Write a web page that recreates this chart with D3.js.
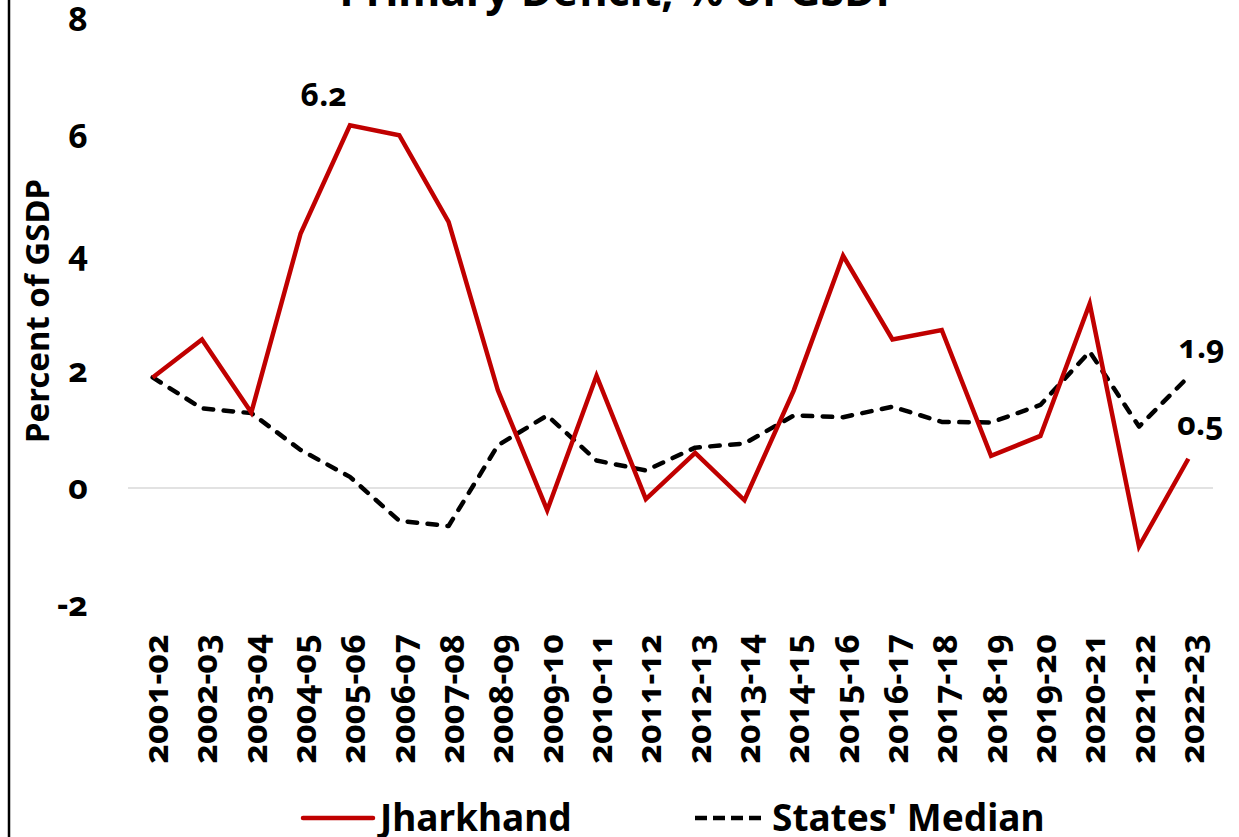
<!DOCTYPE html>
<html>
<head>
<meta charset="utf-8">
<script src="https://cdn.jsdelivr.net/npm/d3@7"></script>
<style>
  html, body { margin: 0; padding: 0; background: #fff; }
  svg { display: block; }
  text { font-family: "Noto Sans", "Open Sans", sans-serif; font-weight: 700; fill: #000;
         font-variant-numeric: oldstyle-nums; }
</style>
</head>
<body>
<svg id="chart" width="1239" height="837"></svg>
<script>
// Fiscal years on the x axis
const years = ["2001-02","2002-03","2003-04","2004-05","2005-06","2006-07","2007-08",
  "2008-09","2009-10","2010-11","2011-12","2012-13","2013-14","2014-15","2015-16",
  "2016-17","2017-18","2018-19","2019-20","2020-21","2021-22","2022-23"];

// Primary deficit as % of GSDP
const jharkhand = [1.89, 2.54, 1.29, 4.35, 6.2, 6.03, 4.55, 1.67, -0.38, 1.92, -0.19,
  0.6, -0.21, 1.67, 3.97, 2.54, 2.7, 0.55, 0.89, 3.15, -1.0, 0.5];
const statesMedian = [1.89, 1.36, 1.28, 0.65, 0.19, -0.56, -0.65, 0.73, 1.24, 0.47, 0.3,
  0.69, 0.76, 1.24, 1.21, 1.39, 1.13, 1.12, 1.42, 2.33, 1.05, 1.9];

const yTicks = [-2, 0, 2, 4, 6, 8];
const seriesNames = ["Jharkhand", "States' Median"];
const title = "Primary Deficit, % of GSDP";
const yTitle = "Percent of GSDP";

const svg = d3.select("#chart");

const x = d3.scalePoint().domain(years).range([128, 1213]).padding(0.5);
const y = d3.scaleLinear().domain([-2, 8]).range([605, 20]);

// outer chart border (left edge)
svg.append("line").attr("x1", 9).attr("x2", 9).attr("y1", 0).attr("y2", 837)
  .attr("stroke", "#000").attr("stroke-width", 2.5);

// title
svg.append("text").attr("x", 621).attr("y", 6).attr("text-anchor", "middle")
  .style("font-size", "43px").text(title);

// zero line
svg.append("line").attr("x1", 128).attr("x2", 1213)
  .attr("y1", y(0)).attr("y2", y(0))
  .attr("stroke", "#d9d9d9").attr("stroke-width", 1.5);

// y axis labels (plain hyphen for negatives)
const yAxis = d3.axisLeft(y).tickValues(yTicks).tickSize(0).tickPadding(0)
  .tickFormat(d => String(d));
const gy = svg.append("g").attr("transform", "translate(88,0)").call(yAxis);
gy.select(".domain").remove();
gy.selectAll("text").style("font-size", "34px").attr("dy", "0.3em")
  .style("font-family", null);

// y axis title
svg.append("text")
  .attr("transform", "translate(49,311) rotate(-90)")
  .attr("text-anchor", "middle").style("font-size", "33px").text(yTitle);

// x axis labels, rotated
const xAxis = d3.axisBottom(x).tickSize(0).tickPadding(0);
const gx = svg.append("g").attr("transform", "translate(0,634)").call(xAxis);
gx.select(".domain").remove();
gx.selectAll("text")
  .attr("transform", "rotate(-90)")
  .attr("text-anchor", "end")
  .attr("x", 0).attr("y", 15).attr("dy", 0)
  .style("font-size", "34px")
  .style("font-family", null);

// series lines
const line = d3.line().x((d, i) => x(years[i])).y(d => y(d));

svg.append("path").datum(statesMedian).attr("d", line)
  .attr("fill", "none").attr("stroke", "#000").attr("stroke-width", 4.5)
  .attr("stroke-dasharray", "9.5,10.5").attr("stroke-linecap", "round")
  .attr("stroke-linejoin", "round");

svg.append("path").datum(jharkhand).attr("d", line)
  .attr("fill", "none").attr("stroke", "#c00000").attr("stroke-width", 4.5)
  .attr("stroke-linejoin", "miter");

// data labels
const last = years.length - 1;
svg.append("text").attr("x", x(years[4]) - 3).attr("y", y(jharkhand[4]) - 19)
  .attr("text-anchor", "end").style("font-size", "32px")
  .text(d3.format(".1f")(jharkhand[4]));
svg.append("text").attr("x", x(years[last]) - 10).attr("y", y(statesMedian[last]) - 19)
  .style("font-size", "32px").text(d3.format(".1f")(statesMedian[last]));
svg.append("text").attr("x", x(years[last]) - 11).attr("y", y(jharkhand[last]) - 24)
  .style("font-size", "32px").text(d3.format(".1f")(jharkhand[last]));

// legend
const legend = svg.append("g");
legend.append("line").attr("x1", 303).attr("x2", 373).attr("y1", 818).attr("y2", 818)
  .attr("stroke", "#c00000").attr("stroke-width", 4.5).attr("stroke-linecap", "round");
legend.append("text").attr("x", 380).attr("y", 831).style("font-size", "37px")
  .text(seriesNames[0]);
legend.append("line").attr("x1", 695).attr("x2", 766).attr("y1", 818).attr("y2", 818)
  .attr("stroke", "#000").attr("stroke-width", 4.5)
  .attr("stroke-dasharray", "12,6");
legend.append("text").attr("x", 772).attr("y", 831).style("font-size", "37px")
  .text(seriesNames[1]);
</script>
</body>
</html>
